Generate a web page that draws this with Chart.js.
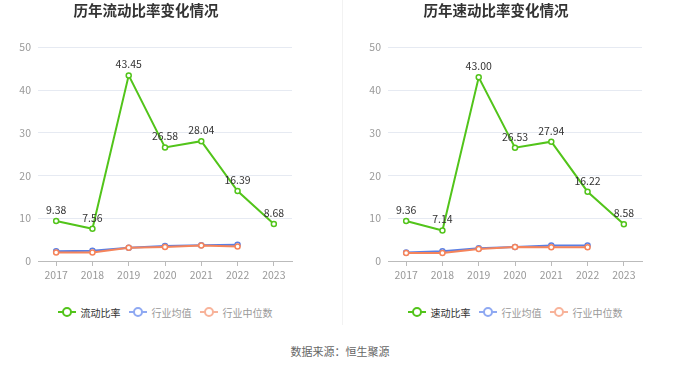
<!DOCTYPE html>
<html>
<head>
<meta charset="utf-8">
<script src="https://cdn.jsdelivr.net/npm/chart.js@4.4.1/dist/chart.umd.min.js"></script>
<style>
  html, body { margin: 0; padding: 0; background: #fff; }
  body { width: 680px; height: 367px; position: relative; overflow: hidden;
    font-family: "Noto Sans CJK SC", "Noto Sans", sans-serif; }
  .box { position: absolute; top: 0; width: 330px; height: 300px; }
  .sep { position: absolute; left: 342px; top: 0; width: 1px; height: 325px; background: #f2f2f2; }
  .legend { position: absolute; top: 304px; width: 330px; height: 16px; display: flex;
    justify-content: center; align-items: center; font-size: 10px; }
  .item { display: flex; align-items: center; margin: 0 4px; }
  .mark { position: relative; width: 18px; height: 10px; margin-right: 5px; }
  .mark::before { content: ""; position: absolute; left: 0; right: 0; top: 4px; height: 2px; background: var(--c); }
  .mark::after { content: ""; position: absolute; left: 4px; top: 0; width: 6px; height: 6px;
    border: 2px solid var(--c); border-radius: 50%; background: #fff; }
  .source { position: absolute; top: 343px; left: 0; width: 680px; text-align: center; font-size: 11px; color: #666; }
</style>
</head>
<body>
<div class="box" style="left:0"><canvas id="leftChart"></canvas></div>
<div class="sep"></div>
<div class="box" style="left:350px"><canvas id="rightChart"></canvas></div>
<div class="legend" id="leftLegend" style="left:0"></div>
<div class="legend" id="rightLegend" style="left:350px"></div>
<div class="source">数据来源：恒生聚源</div>
<script>
// DATA
const years = ["2017", "2018", "2019", "2020", "2021", "2022", "2023"];
const yTicks = [0, 10, 20, 30, 40, 50];

const currentRatio = [9.38, 7.56, 43.45, 26.58, 28.04, 16.39, 8.68];
const currentAvg = [2.3, 2.4, 3.1, 3.5, 3.7, 3.8, null];
const currentMedian = [2.0, 2.0, 3.1, 3.3, 3.6, 3.4, null];

const quickRatio = [9.36, 7.14, 43.0, 26.53, 27.94, 16.22, 8.58];
const quickAvg = [2.0, 2.3, 3.0, 3.3, 3.6, 3.6, null];
const quickMedian = [1.9, 1.9, 2.8, 3.3, 3.2, 3.2, null];

const FONT = '"Noto Sans CJK SC", "Noto Sans", sans-serif';
const GREEN = "#52c41a";
const BLUE = "#5b7fe3";
const ORANGE = "#f5845b";

// draws value labels above the main series
const valueLabels = {
  id: "valueLabels",
  afterDatasetsDraw(chart) {
    const ctx = chart.ctx;
    const meta = chart.getDatasetMeta(0);
    const data = chart.data.datasets[0].data;
    ctx.save();
    ctx.font = "10.5px " + FONT;
    ctx.fillStyle = "#333";
    ctx.textAlign = "center";
    ctx.textBaseline = "middle";
    meta.data.forEach((pt, i) => {
      ctx.fillText(data[i].toFixed(2), pt.x, pt.y - 11);
    });
    ctx.restore();
  },
};

function lineSet(label, data, color, order) {
  return {
    label: label,
    data: data,
    borderColor: color,
    backgroundColor: "#fff",
    borderWidth: 2,
    pointRadius: 2.5,
    pointBorderWidth: 1.5,
    pointBackgroundColor: "#fff",
    pointBorderColor: color,
    tension: 0,
    order: order,
  };
}

function makeChart(id, title, name, main, avg, median) {
  new Chart(document.getElementById(id), {
    type: "line",
    data: {
      labels: years,
      datasets: [
        lineSet(name, main, GREEN, 0),
        lineSet("行业均值", avg, BLUE, 2),
        lineSet("行业中位数", median, ORANGE, 1),
      ],
    },
    options: {
      responsive: true,
      maintainAspectRatio: false,
      animation: false,
      layout: { padding: { left: 0, right: 38, top: 0, bottom: 0 } },
      plugins: {
        legend: { display: false },
        tooltip: { enabled: false },
        title: {
          display: true,
          text: title,
          color: "#333",
          font: { family: FONT, size: 14.5, weight: "bold" },
          padding: { top: 2, bottom: 28 },
        },
      },
      scales: {
        x: {
          offset: true,
          grid: { drawOnChartArea: false, offset: false, tickLength: 5, color: "#bbb" },
          border: { color: "#bbb" },
          ticks: { color: "#999", font: { family: FONT, size: 10.5 }, padding: 3 },
          afterFit(scale) { scale.height = 39; },
        },
        y: {
          min: 0,
          max: 50,
          afterBuildTicks(scale) { scale.ticks = yTicks.map((v) => ({ value: v })); },
          grid: { color: "#e6eaf2", drawTicks: false },
          border: { display: false },
          ticks: { color: "#999", font: { family: FONT, size: 10.5 }, padding: 7 },
          afterFit(scale) { scale.width = 38; },
        },
      },
    },
    plugins: [valueLabels],
  });
}

function makeLegend(id, name) {
  const items = [
    [name, GREEN, "#333"],
    ["行业均值", "#8fa9f2", "#999"],
    ["行业中位数", "#f8b39a", "#999"],
  ];
  const el = document.getElementById(id);
  items.forEach((it) => {
    const d = document.createElement("div");
    d.className = "item";
    d.innerHTML = `<span class="mark" style="--c:${it[1]}"></span><span style="color:${it[2]}">${it[0]}</span>`;
    el.appendChild(d);
  });
}

makeChart("leftChart", "历年流动比率变化情况", "流动比率", currentRatio, currentAvg, currentMedian);
makeChart("rightChart", "历年速动比率变化情况", "速动比率", quickRatio, quickAvg, quickMedian);
makeLegend("leftLegend", "流动比率");
makeLegend("rightLegend", "速动比率");
</script>
</body>
</html>
